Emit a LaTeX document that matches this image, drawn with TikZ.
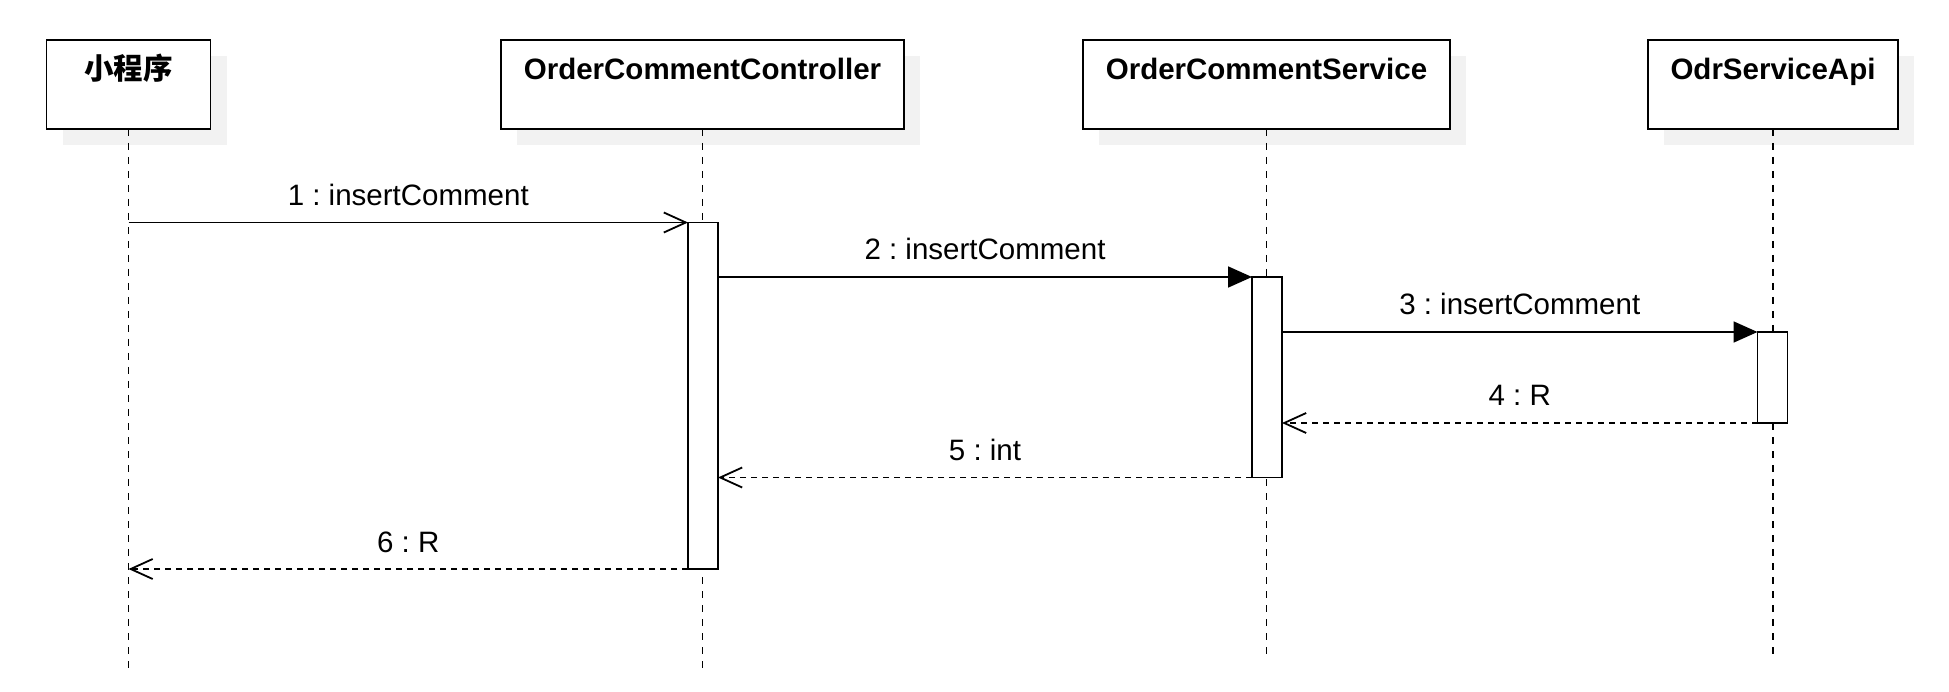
\documentclass[tikz,border=0pt]{standalone}
\usepackage{fontspec}
\setmainfont{Liberation Sans}
\newfontfamily\cjk{Noto Sans CJK SC}
\usetikzlibrary{arrows.meta,shadows}
\definecolor{shadowgray}{HTML}{F2F2F2}
\frenchspacing
\begin{document}
\frenchspacing
\begin{tikzpicture}[x=1pt,y=-1pt,
  every node/.style={inner sep=0pt,outer sep=0pt},
  partbox/.style={draw=black,line width=1.8pt,fill=white,rectangle,minimum height=89pt,
     general shadow={fill=shadowgray,shadow xshift=16pt,shadow yshift=-16pt}},
  parttext/.style={anchor=base,font=\fontsize{29.5}{34}\selectfont\bfseries},
  lifeline/.style={line width=1.8pt,dash pattern=on 7pt off 7pt},
  actbox/.style={draw=black,line width=1.8pt,fill=white,rectangle,minimum width=30pt},
  callmsg/.style={line width=1.8pt,-{Triangle[length=24pt,width=21pt]}},
  firstmsg/.style={line width=1.8pt,-{Straight Barb[length=22pt,width=20pt,line width=1.8pt]}},
  retmsg/.style={line width=1.8pt,dash pattern=on 6pt off 5pt,-{Straight Barb[length=22pt,width=20pt,line width=1.8pt]}},
  msglabel/.style={anchor=base,font=\fontsize{29.5}{34}\selectfont,yshift=17pt}
]
\useasboundingbox (0,0) rectangle (1949,692);
% participants
\node[partbox,minimum width=164pt] (p1) at (128.5,84.5) {};
\node[partbox,minimum width=403pt] (p2) at (702.5,84.5) {};
\node[partbox,minimum width=367pt] (p3) at (1266.5,84.5) {};
\node[partbox,minimum width=250pt] (p4) at (1773,84.5) {};
\node[parttext,yshift=-40pt] (t1) at (p1.north) {\cjk\bfseries 小程序};
\node[parttext,yshift=-40pt] (t2) at (p2.north) {OrderCommentController};
\node[parttext,yshift=-40pt] (t3) at (p3.north) {OrderCommentService};
\node[parttext,yshift=-40pt] (t4) at (p4.north) {OdrServiceApi};
% lifeline ends
\coordinate (e1) at (p1.south |- 0,670);
\coordinate (e2) at (p2.south |- 0,670);
\coordinate (e3) at (p3.south |- 0,656);
\coordinate (e4) at (p4.south |- 0,656);
\draw[lifeline] (p1.south) -- (e1);
\draw[lifeline] (p2.south) -- (e2);
\draw[lifeline] (p3.south) -- (e3);
\draw[lifeline] (p4.south) -- (e4);
% activations
\node[actbox,minimum height=346.5pt] (a1) at (703,395.75) {};
\node[actbox,minimum height=200.5pt] (a2) at (1267,377.25) {};
\node[actbox,minimum height=91pt] (a3) at (1772.5,377.5) {};
% messages
\draw[firstmsg] (p1.south |- a1.north west) -- node[msglabel,midway] (m1) {1 : insertComment} (a1.north west);
\draw[callmsg] (a1.east |- a2.north west) -- node[msglabel,midway] (m2) {2 : insertComment} (a2.north west);
\draw[callmsg] (a2.east |- a3.north west) -- node[msglabel,midway] (m3) {3 : insertComment} (a3.north west);
\draw[retmsg] (a3.south west) -- node[msglabel,midway] (m4) {4 : R} (a2.east |- a3.south west);
\draw[retmsg] (a2.south west) -- node[msglabel,midway] (m5) {5 : int} (a1.east |- a2.south west);
\draw[retmsg] (a1.south west) -- node[msglabel,midway] (m6) {6 : R} (p1.south |- a1.south west);
\end{tikzpicture}
\end{document}
